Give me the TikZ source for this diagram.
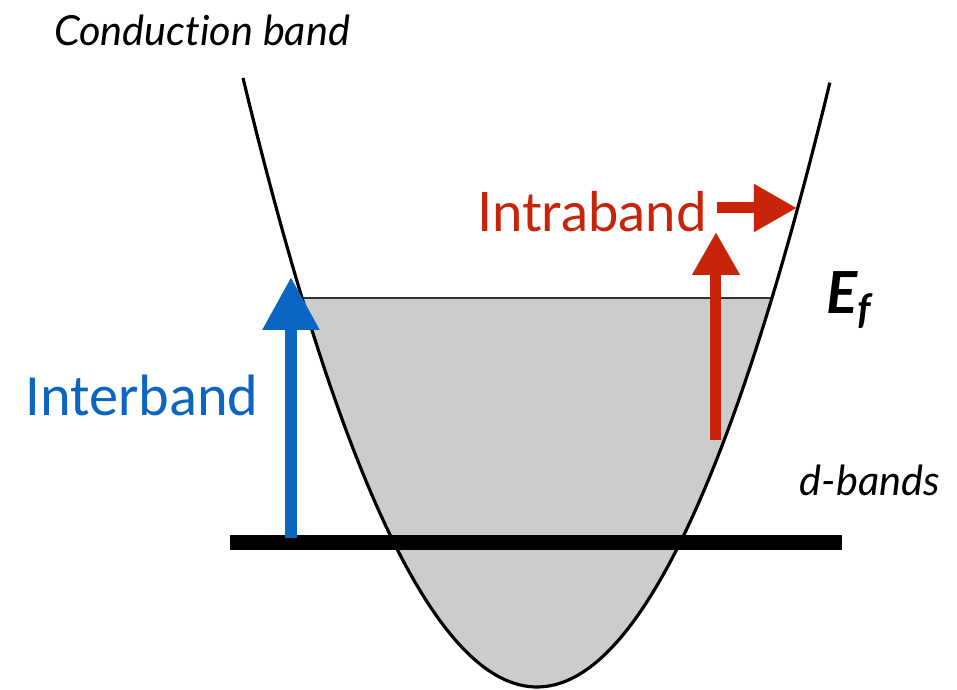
\documentclass[tikz,border=0pt]{standalone}
\usepackage{fontspec}
\setmainfont{Lato}[Ligatures={NoCommon}]
\newfontfamily\interfont{Carlito}
\usetikzlibrary{arrows.meta}
\definecolor{interblue}{RGB}{10,102,192}
\definecolor{intrared}{RGB}{200,36,10}
\definecolor{seagray}{RGB}{204,204,204}
\begin{document}
\begin{tikzpicture}[
    band/.style={black, line width=0.9pt},
    bigarrow/.style={-{Triangle[length=0.53cm, width=0.54cm]}, line width=0.12cm},
    smallarrow/.style={-{Triangle[length=0.43cm, width=0.45cm]}, line width=0.11cm}
  ]
    \useasboundingbox (0,0) rectangle (9.57,6.90);

    % Filled states below the Fermi level
    \fill[seagray] plot[domain=3.02:7.72, samples=80] (\x, {0.03+0.7046*(\x-5.37)^2}) -- cycle;
    \draw[black!80, line width=0.8pt] (3.02,3.92) -- (7.72,3.92);

    % Conduction band (parabola)
    \draw[band] plot[domain=2.43:8.30, samples=120] (\x, {0.03+0.7046*(\x-5.37)^2});

    % d-bands level
    \draw[black, line width=0.15cm] (2.30,1.47) -- (8.42,1.47);

    % Points for the transitions
    \coordinate (dstart) at (2.91,1.52);
    \coordinate (dend) at (2.91,4.13);
    \coordinate (fstart) at (7.16,2.50);
    \coordinate (fend) at (7.16,4.58);
    \coordinate (kstart) at (7.17,4.82);
    \coordinate (kend) at (7.97,4.82);

    % Interband transition (blue)
    \draw[bigarrow, interblue] (dstart) -- (dend);
    % Intraband transition (red)
    \draw[smallarrow, intrared] (fstart) -- (fend);
    \draw[smallarrow, intrared] (kstart) -- (kend);

    % Labels
    \node (cb) at (2.02,6.60) {\fontsize{11.8}{14}\selectfont\itshape Conduction band};
    \node[intrared] (intra) at (5.92,4.78) {\fontsize{15.5}{18}\selectfont Intraband};
    \node[interblue] (inter) at (1.42,2.95) {\interfont\fontsize{16.6}{20}\selectfont Interband};
    \node (ef) at (8.50,3.90) {\fontsize{16.5}{19}\selectfont\bfseries\itshape E\textsubscript{f}};
    \node (db) at (8.70,2.10) {\fontsize{11.8}{14}\selectfont\itshape d-bands};
\end{tikzpicture}
\end{document}
